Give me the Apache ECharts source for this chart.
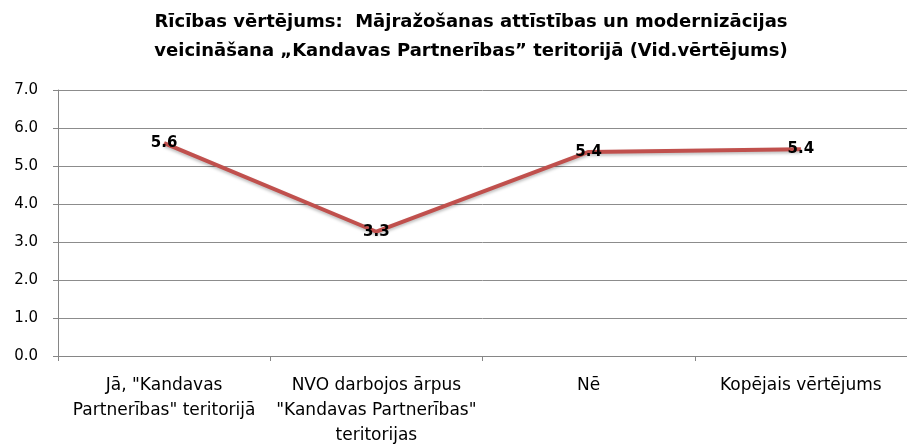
<!DOCTYPE html>
<html>
<head>
<meta charset="utf-8">
<script src="https://cdn.jsdelivr.net/npm/echarts@6/dist/echarts.min.js"></script>
<style>
  html, body { margin: 0; padding: 0; background: #fff; }
  #chart { width: 907px; height: 447px; }
</style>
</head>
<body>
<div id="chart"></div>
<script>
// kategorijas un vidējie vērtējumi
const categories = [
  'Jā, "Kandavas\nPartnerības" teritorijā',
  'NVO darbojos ārpus\n"Kandavas Partnerības"\nteritorijas',
  'Nē',
  'Kopējais vērtējums'
]
const values = [5.6, 3.27, 5.37, 5.44]
const yTicks = [0, 1, 2, 3, 4, 5, 6, 7]

const font = 'DejaVu Sans, Arial, sans-serif'
const chart = echarts.init(document.getElementById('chart'))
chart.setOption({
  animation: false,
  title: {
    text: 'Rīcības vērtējums:  Mājražošanas attīstības un modernizācijas\nveicināšana „Kandavas Partnerības” teritorijā (Vid.vērtējums)',
    left: 466,
    top: 3,
    textAlign: 'center',
    textStyle: {
      fontFamily: font,
      fontSize: 18,
      fontWeight: 'bold',
      color: '#000',
      lineHeight: 29
    }
  },
  grid: {
    left: 58,
    right: 0,
    top: 90,
    bottom: 91,
    outerBoundsMode: 'none'
  },
  xAxis: {
    type: 'category',
    data: categories,
    boundaryGap: true,
    axisLine: { lineStyle: { color: '#868686', width: 1 } },
    axisTick: { show: true, length: 5, lineStyle: { color: '#868686' } },
    axisLabel: {
      fontFamily: font,
      fontSize: 17,
      color: '#000',
      lineHeight: 25,
      margin: 17,
      interval: 0
    }
  },
  yAxis: {
    type: 'value',
    min: yTicks[0],
    max: yTicks[yTicks.length - 1],
    interval: 1,
    axisLine: { show: true, lineStyle: { color: '#868686' } },
    axisTick: { show: true, length: 5, lineStyle: { color: '#868686' } },
    splitLine: { lineStyle: { color: '#8c8c8c', width: 1 } },
    axisLabel: {
      fontFamily: font,
      fontSize: 15,
      color: '#000',
      margin: 20,
      formatter: (v) => v.toFixed(1)
    }
  },
  series: [
    {
      type: 'line',
      data: values,
      symbol: 'circle',
      symbolSize: 1,
      itemStyle: { color: '#C0504D' },
      lineStyle: {
        color: '#C0504D',
        width: 4,
        shadowColor: 'rgba(0,0,0,0.25)',
        shadowBlur: 3,
        shadowOffsetY: 2
      },
      label: {
        show: true,
        position: 'inside',
        fontFamily: font,
        fontSize: 15,
        fontWeight: 'bold',
        color: '#000',
        formatter: (p) => p.value.toFixed(1)
      }
    }
  ]
})
</script>
</body>
</html>
